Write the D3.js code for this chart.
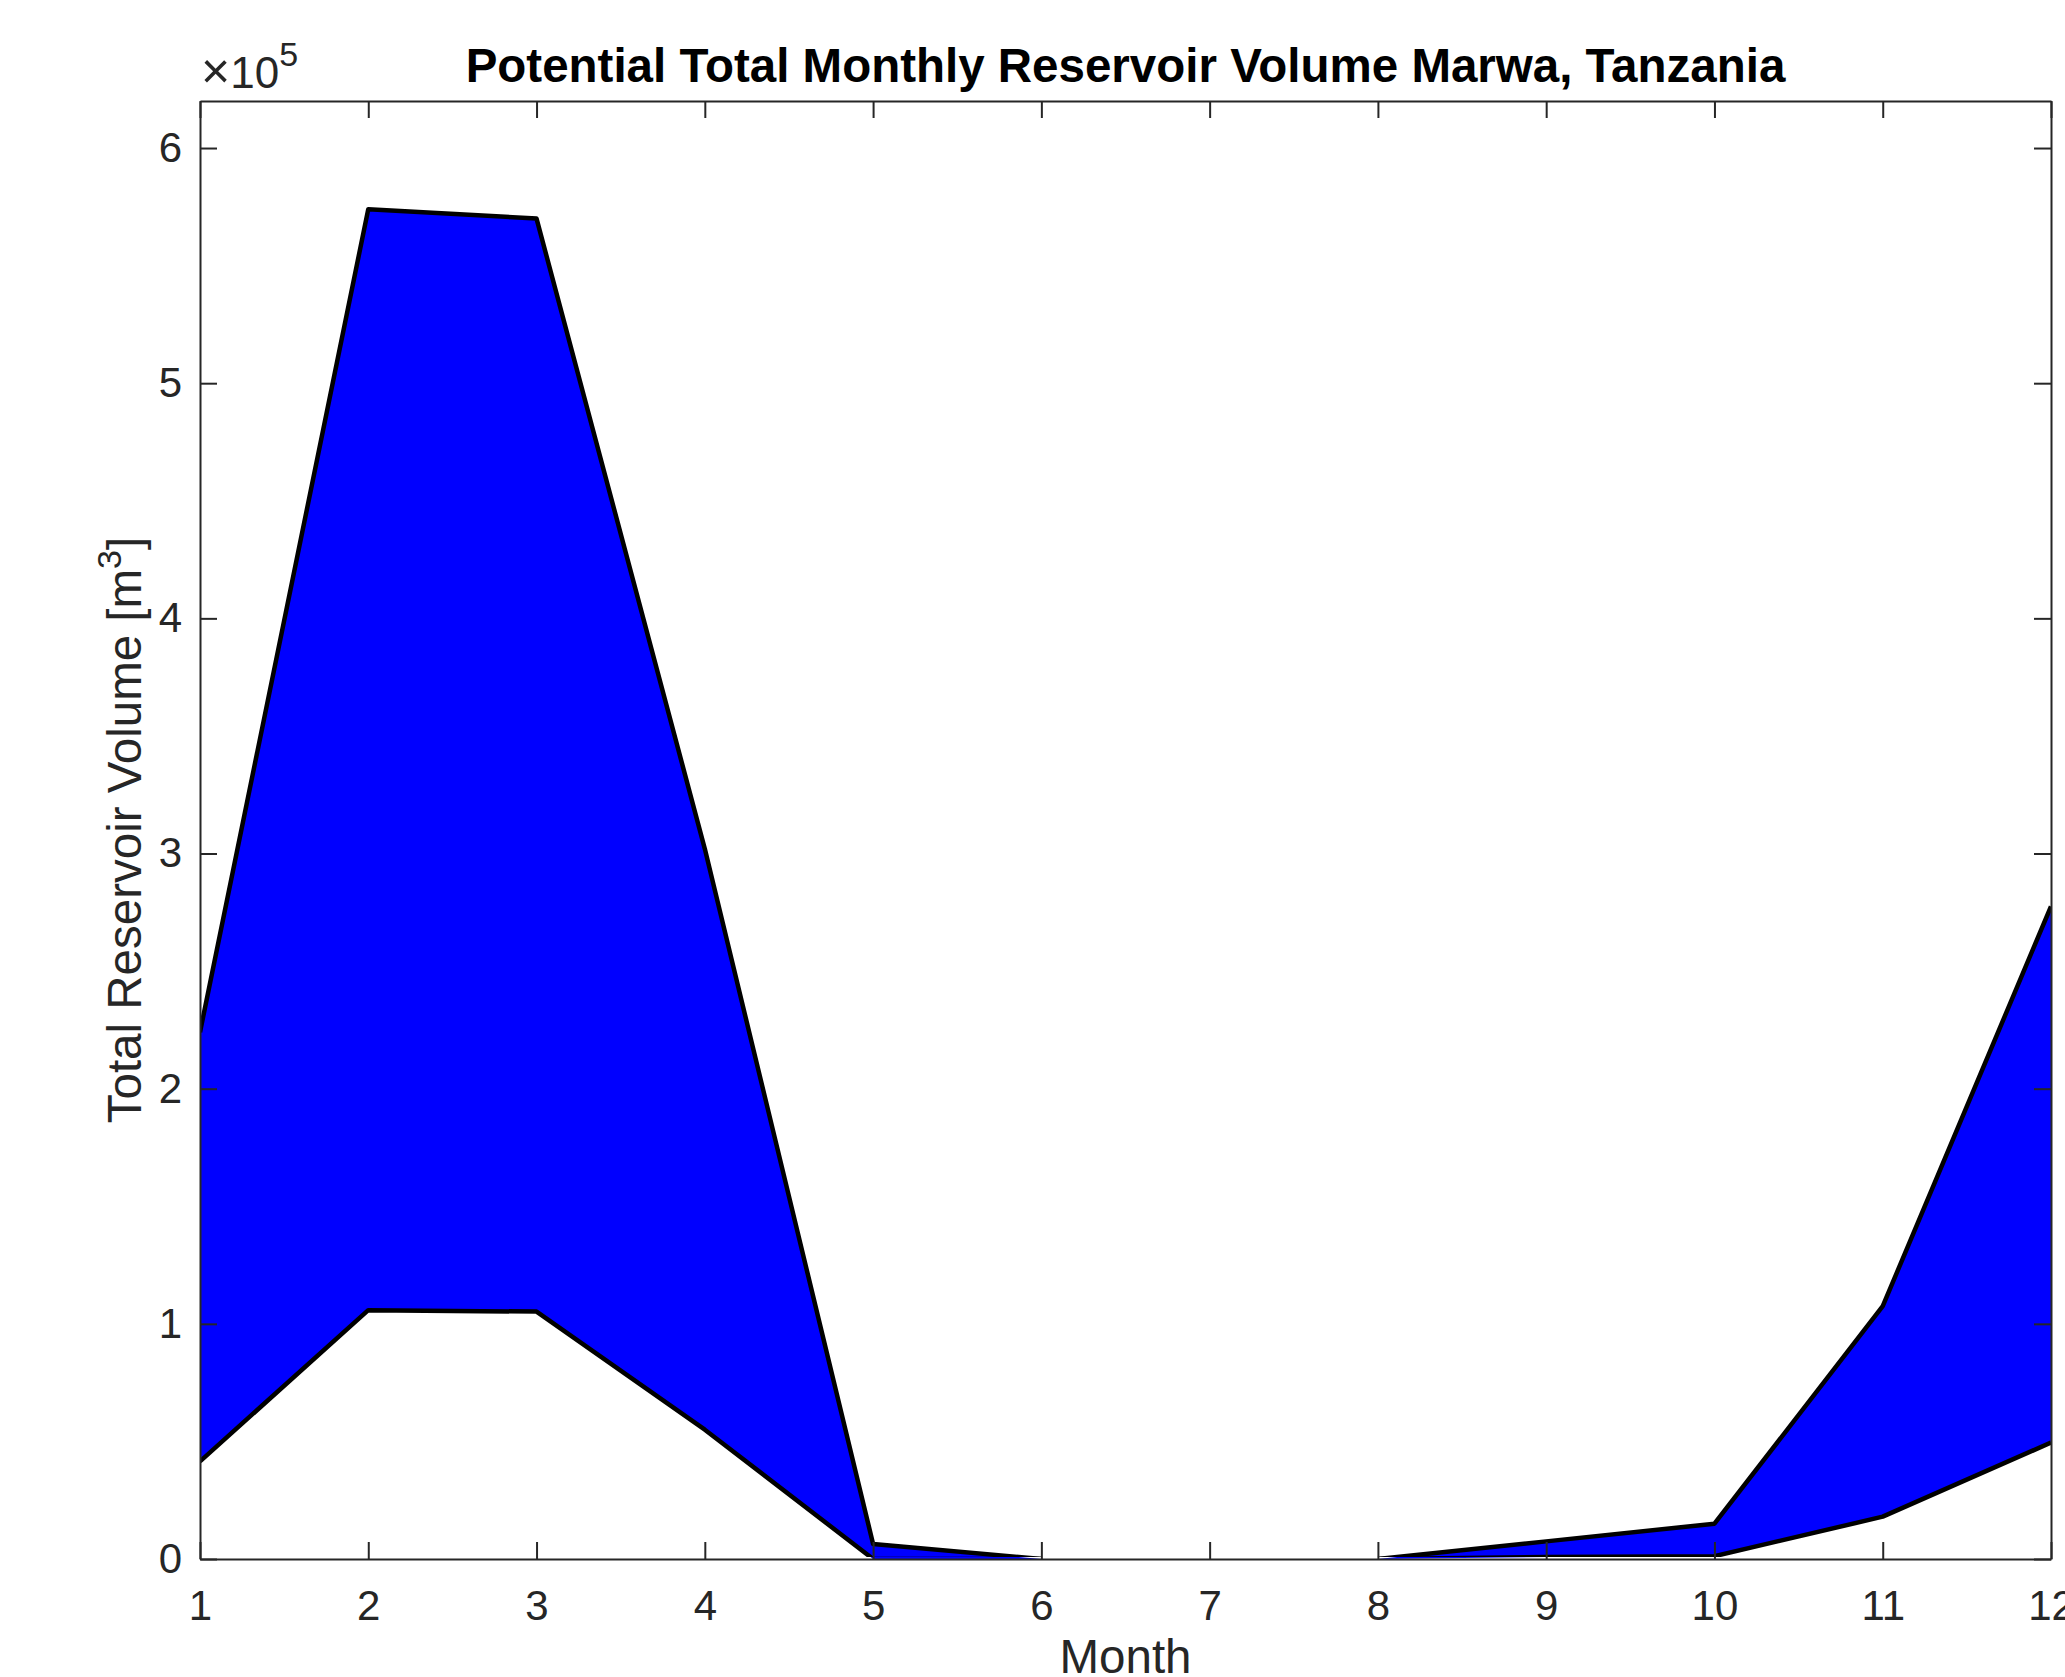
<!DOCTYPE html>
<html>
<head>
<meta charset="utf-8">
<script src="https://cdn.jsdelivr.net/npm/d3@7"></script>
<style>
  body { margin: 0; background: #fff; }
  svg { display: block; font-family: "Liberation Sans", Arial, Helvetica, sans-serif; }
  .tick text { fill: #262626; font-size: 42px; }
  .tick line, .domain { stroke: #262626; stroke-width: 2; }
</style>
</head>
<body>
<div id="chart"></div>
<script>
// monthly reservoir volume range, m^3
const months = [1, 2, 3, 4, 5, 6, 7, 8, 9, 10, 11, 12];
const upperVol = [224000, 574000, 570000, 302000, 6400, 0, 0, 0, 7500, 15000, 107500, 277500];
const lowerVol = [41500, 105800, 105200, 55000, 0, 0, 0, 0, 800, 1200, 18000, 49500];
const yTicks = [0, 1, 2, 3, 4, 5, 6];

const W = 2065, H = 1677;
const margin = { top: 101, right: 14, bottom: 118, left: 200 };
const iw = W - margin.left - margin.right;
const ih = H - margin.top - margin.bottom;

const rows = months.map((m, i) => ({ m, hi: upperVol[i], lo: lowerVol[i] }));
// a month belongs to a band if it or a neighbour holds water
const inBand = (d, i) => d.hi > 0 || (rows[i - 1] && rows[i - 1].hi > 0) || (rows[i + 1] && rows[i + 1].hi > 0);

const x = d3.scaleLinear().domain([1, 12]).range([0, iw]);
const y = d3.scaleLinear().domain([0, 6.2e5]).range([ih, 0]);

const svg = d3.select("#chart").append("svg")
  .attr("width", W).attr("height", H);

const defs = svg.append("defs");
defs.append("clipPath").attr("id", "clip-fill")
  .append("rect").attr("width", iw).attr("height", ih);
defs.append("clipPath").attr("id", "clip-edge")
  .append("rect").attr("width", iw).attr("height", ih - 2);

const g = svg.append("g").attr("transform", `translate(${margin.left},${margin.top})`);

const area = d3.area()
  .defined(inBand)
  .x(d => x(d.m)).y0(d => y(d.lo)).y1(d => y(d.hi));

g.append("path")
  .datum(rows)
  .attr("clip-path", "url(#clip-fill)")
  .attr("fill", "#0000ff")
  .attr("d", area);

const edge = g.append("g").attr("clip-path", "url(#clip-edge)");
[d => d.hi, d => d.lo].forEach(acc => {
  edge.append("path")
    .datum(rows)
    .attr("fill", "none")
    .attr("stroke", "#000")
    .attr("stroke-width", 4.5)
    .attr("stroke-linejoin", "round")
    .attr("d", d3.line().defined(inBand).x(d => x(d.m)).y(d => y(acc(d))));
});

// axes, ticks pointing inward like MATLAB
const yTickVals = yTicks.map(t => t * 1e5);
g.append("g").attr("transform", `translate(0,${ih})`)
  .call(d3.axisBottom(x).tickValues(months).tickFormat(d3.format("d"))
    .tickSizeInner(-17).tickSizeOuter(0).tickPadding(31));
g.append("g")
  .call(d3.axisTop(x).tickValues(months).tickFormat("")
    .tickSizeInner(-17).tickSizeOuter(0));
g.append("g")
  .call(d3.axisLeft(y).tickValues(yTickVals).tickFormat(d => d / 1e5)
    .tickSizeInner(-17).tickSizeOuter(0).tickPadding(18));
g.append("g").attr("transform", `translate(${iw},0)`)
  .call(d3.axisRight(y).tickValues(yTickVals).tickFormat("")
    .tickSizeInner(-17).tickSizeOuter(0));
g.selectAll(".domain").attr("fill", "none");

// exponent
const ex = g.append("text")
  .attr("x", 1).attr("y", -13)
  .attr("fill", "#262626").attr("font-size", 44);
ex.append("tspan").attr("font-size", 50).text("×");
ex.append("tspan").text("10");
ex.append("tspan").attr("dy", -22).attr("font-size", 34).text("5");

// title
svg.append("text")
  .attr("x", margin.left + iw / 2).attr("y", 82)
  .attr("text-anchor", "middle")
  .attr("font-size", 47.5).attr("font-weight", "bold").attr("fill", "#000")
  .text("Potential Total Monthly Reservoir Volume Marwa, Tanzania");

// axis labels
svg.append("text")
  .attr("x", margin.left + iw / 2).attr("y", 1673)
  .attr("text-anchor", "middle")
  .attr("font-size", 47.5).attr("fill", "#262626")
  .text("Month");

const yl = svg.append("text")
  .attr("transform", `translate(141,${margin.top + ih / 2}) rotate(-90)`)
  .attr("text-anchor", "middle")
  .attr("font-size", 47.5).attr("fill", "#262626");
yl.append("tspan").text("Total Reservoir Volume [m");
yl.append("tspan").attr("dy", -20).attr("font-size", 34).text("3");
yl.append("tspan").attr("dy", 20).text("]");
</script>
</body>
</html>
